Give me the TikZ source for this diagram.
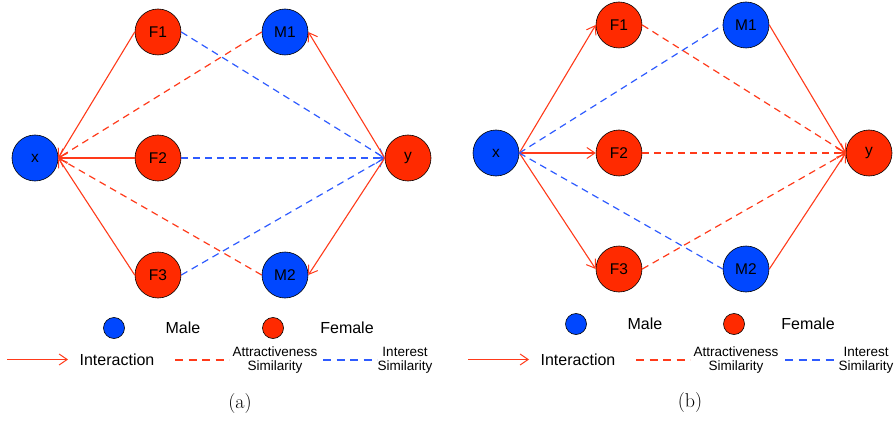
\documentclass[tikz,border=0pt]{standalone}
\usepackage{fontspec}
\newfontfamily\hv{Liberation Sans}
\usetikzlibrary{arrows.meta}
\definecolor{nred}{HTML}{FF2A00}
\definecolor{nblue}{HTML}{0047FF}
\definecolor{ered}{HTML}{FF3A1A}
\definecolor{eblue}{HTML}{2E5BFF}
\tikzset{
  person/.style={circle, draw=black, line width=0.6pt, minimum size=46pt, inner sep=0pt, font=\hv\fontsize{15.5}{16}\selectfont},
  fem/.style={person, fill=nred},
  mal/.style={person, fill=nblue},
  dot/.style={circle, draw=black, line width=0.6pt, minimum size=21pt, inner sep=0pt},
  tip/.style={-{Straight Barb[length=8pt,width=11pt,line width=1pt]}},
  inter/.style={draw=ered, line width=1.1pt, tip},
  attr/.style={draw=ered, line width=1.2pt, dash pattern=on 7pt off 5pt},
  intr/.style={draw=eblue, line width=1.2pt, dash pattern=on 7pt off 5pt},
  legline/.style={line width=1.5pt, dash pattern=on 8pt off 5.5pt},
  big/.style={font=\hv\fontsize{16}{18}\selectfont},
  small/.style={font=\hv\fontsize{13.5}{16}\selectfont, align=center},
  captext/.style={font=\fontsize{20}{22}\selectfont}
}
\begin{document}
\begin{tikzpicture}[x=1pt,y=-1pt]
\useasboundingbox (0,0) rectangle (896,422);
% ---------- panel (a)
\node[mal] (ax) at (35,158) {x};
\node[fem] (aF1) at (158,32) {F1};
\node[mal] (aM1) at (285,32) {M1};
\node[fem] (aF2) at (158,158) {F2};
\node[fem] (ay) at (408,158) {y};
\node[fem] (aF3) at (158,275) {F3};
\node[mal] (aM2) at (285,275) {M2};
\draw[inter] (aF1.west) -- (ax.east);
\draw[inter] (aF2.west) -- (ax.east);
\draw[inter] (aF3.west) -- (ax.east);
\draw[attr,tip] (aM1.west) -- (ax.east);
\draw[attr,tip] (aM2.west) -- (ax.east);
\draw[intr,tip] (aF1.east) -- (ay.west);
\draw[intr,tip] (aF2.east) -- (ay.west);
\draw[intr,tip] (aF3.east) -- (ay.west);
\draw[inter] (ay.west) -- (aM1.east);
\draw[inter] (ay.west) -- (aM2.east);
% legend (a)
\node[dot, fill=nblue] (aLm) at (114,328) {};
\node[big] (aLmt) at (183,328) {Male};
\node[dot, fill=nred] (aLf) at (273,328) {};
\node[big] (aLft) at (347,328) {Female};
\coordinate (aI1) at (7,359.5);
\coordinate (aI2) at (68,359.5);
\draw[inter] (aI1) -- (aI2);
\node[big] (aIt) at (117,360) {Interaction};
\coordinate (aA1) at (175,360);
\coordinate (aA2) at (229,360);
\draw[attr,legline] (aA1) -- (aA2);
\node[small] (aAt) at (275,360) {Attractiveness\\[-2pt]Similarity};
\coordinate (aB1) at (323,360);
\coordinate (aB2) at (377,360);
\draw[intr,legline] (aB1) -- (aB2);
\node[small] (aBt) at (405,360) {Interest\\[-2pt]Similarity};
\node[captext] (capa) at (240,404) {(a)};
% ---------- panel (b)
\node[mal] (bx) at (496,153) {x};
\node[fem] (bF1) at (619,25) {F1};
\node[mal] (bM1) at (746,25) {M1};
\node[fem] (bF2) at (619,153) {F2};
\node[fem] (by) at (869,153) {y};
\node[fem] (bF3) at (619,269) {F3};
\node[mal] (bM2) at (746,269) {M2};
\draw[inter] (bx.east) -- (bF1.west);
\draw[inter] (bx.east) -- (bF2.west);
\draw[inter] (bx.east) -- (bF3.west);
\draw[intr] (bx.east) -- (bM1.west);
\draw[intr] (bx.east) -- (bM2.west);
\draw[attr,tip] (bF1.east) -- (by.west);
\draw[attr,tip] (bF2.east) -- (by.west);
\draw[attr,tip] (bF3.east) -- (by.west);
\draw[inter] (bM1.east) -- (by.west);
\draw[inter] (bM2.east) -- (by.west);
% legend (b)
\node[dot, fill=nblue] (bLm) at (576,324) {};
\node[big] (bLmt) at (645,324) {Male};
\node[dot, fill=nred] (bLf) at (734,324) {};
\node[big] (bLft) at (808,324) {Female};
\coordinate (bI1) at (468,359.5);
\coordinate (bI2) at (529,359.5);
\draw[inter] (bI1) -- (bI2);
\node[big] (bIt) at (578,360) {Interaction};
\coordinate (bA1) at (636,360);
\coordinate (bA2) at (690,360);
\draw[attr,legline] (bA1) -- (bA2);
\node[small] (bAt) at (736,360) {Attractiveness\\[-2pt]Similarity};
\coordinate (bB1) at (785,360);
\coordinate (bB2) at (838,360);
\draw[intr,legline] (bB1) -- (bB2);
\node[small] (bBt) at (866,360) {Interest\\[-2pt]Similarity};
\node[captext] (capb) at (690,403) {(b)};
\end{tikzpicture}
\end{document}
